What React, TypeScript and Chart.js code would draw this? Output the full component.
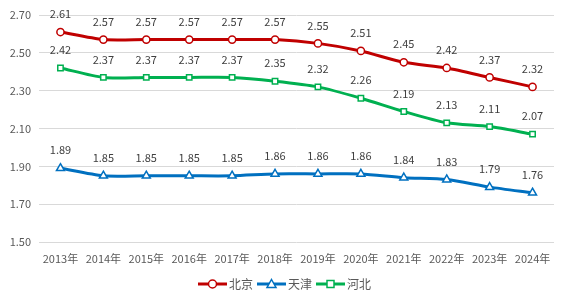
import React, { useEffect, useRef } from "react";
import { Chart, registerables } from "chart.js";

Chart.register(...registerables);

const categories = ["2013年", "2014年", "2015年", "2016年", "2017年", "2018年", "2019年", "2020年", "2021年", "2022年", "2023年", "2024年"];
const beijing = [2.61, 2.57, 2.57, 2.57, 2.57, 2.57, 2.55, 2.51, 2.45, 2.42, 2.37, 2.32];
const tianjin = [1.89, 1.85, 1.85, 1.85, 1.85, 1.86, 1.86, 1.86, 1.84, 1.83, 1.79, 1.76];
const hebei = [2.42, 2.37, 2.37, 2.37, 2.37, 2.35, 2.32, 2.26, 2.19, 2.13, 2.11, 2.07];
const seriesNames = ["北京", "天津", "河北"];
const yTicks = { min: 1.5, max: 2.7, step: 0.2 };

const COLORS = ["#C00000", "#0070C0", "#00B050"];
const MARKERS = ["circle", "triangle", "rect"];
const RADII = [3.6, 4.6, 3.8];
const NUM_FONT = '"Noto Sans CJK SC", "Noto Sans", sans-serif';

function drawMarker(ctx: CanvasRenderingContext2D, style: string, x: number, y: number, color: string) {
  ctx.save();
  ctx.fillStyle = "#ffffff";
  ctx.strokeStyle = color;
  ctx.lineWidth = 1.5;
  ctx.beginPath();
  if (style === "circle") {
    ctx.arc(x, y, 4, 0, Math.PI * 2);
  } else if (style === "triangle") {
    ctx.moveTo(x, y - 4.5);
    ctx.lineTo(x + 4.5, y + 3.5);
    ctx.lineTo(x - 4.5, y + 3.5);
    ctx.closePath();
  } else {
    ctx.rect(x - 3.5, y - 3.5, 7, 7);
  }
  ctx.fill();
  ctx.stroke();
  ctx.restore();
}

const labelPlugin = {
  id: "valueLabels",
  afterDatasetsDraw(chart: any) {
    const ctx = chart.ctx as CanvasRenderingContext2D;
    ctx.save();
    ctx.font = `11px ${NUM_FONT}`;
    ctx.fillStyle = "#404040";
    ctx.textAlign = "center";
    ctx.textBaseline = "middle";
    chart.data.datasets.forEach((ds: any, i: number) => {
      const meta = chart.getDatasetMeta(i);
      meta.data.forEach((pt: any, j: number) => {
        ctx.fillText(Number(ds.data[j]).toFixed(2), pt.x, pt.y - 18);
      });
    });
    ctx.restore();
  },
};

const legendPlugin = {
  id: "customLegend",
  afterDraw(chart: any) {
    const ctx = chart.ctx as CanvasRenderingContext2D;
    ctx.save();
    ctx.font = `12px ${NUM_FONT}`;
    ctx.textBaseline = "middle";
    ctx.textAlign = "left";
    const lineW = 29;
    const gap = 2;
    const itemGap = 4;
    const widths = seriesNames.map((n) => lineW + gap + ctx.measureText(n).width);
    const total = widths.reduce((a, b) => a + b, 0) + itemGap * (seriesNames.length - 1);
    let x = chart.width / 2 - total / 2;
    const y = 284;
    seriesNames.forEach((n, i) => {
      ctx.strokeStyle = COLORS[i];
      ctx.lineWidth = 3;
      ctx.beginPath();
      ctx.moveTo(x, y);
      ctx.lineTo(x + lineW, y);
      ctx.stroke();
      drawMarker(ctx, MARKERS[i], x + lineW / 2, y, COLORS[i]);
      ctx.fillStyle = "#595959";
      ctx.fillText(n, x + lineW + gap, y + 0.5);
      x += widths[i] + itemGap;
    });
    ctx.restore();
  },
};

export default function App() {
  const ref = useRef<HTMLCanvasElement>(null);
  useEffect(() => {
    if (!ref.current) return;
    const data = [beijing, tianjin, hebei];
    const chart = new Chart(ref.current, {
      type: "line",
      data: {
        labels: categories,
        datasets: seriesNames.map((name, i) => ({
          label: name,
          data: data[i],
          borderColor: COLORS[i],
          backgroundColor: "#ffffff",
          borderWidth: 3,
          tension: 0.25,
          pointStyle: MARKERS[i] as any,
          pointRadius: RADII[i],
          pointBorderWidth: 1.5,
          pointBackgroundColor: "#ffffff",
          pointBorderColor: COLORS[i],
        })),
      },
      options: {
        animation: false,
        responsive: false,
        layout: { padding: { top: 15, right: 15, bottom: 38, left: 0 } },
        plugins: {
          legend: { display: false },
          tooltip: { enabled: false },
        },
        scales: {
          x: {
            offset: true,
            grid: { display: false },
            border: { display: false },
            ticks: { color: "#595959", font: { size: 11, family: NUM_FONT }, padding: 2, maxRotation: 0, autoSkip: false },
            afterFit: (s: any) => { s.height = 26; },
          },
          y: {
            min: yTicks.min,
            max: yTicks.max,
            grid: { color: "#d9d9d9", lineWidth: 1, drawTicks: false },
            border: { display: false },
            ticks: {
              stepSize: yTicks.step,
              color: "#595959",
              font: { size: 11, family: NUM_FONT },
              padding: 8,
              callback: (v: any) => Number(v).toFixed(2),
            },
            afterFit: (s: any) => { s.width = 39; },
          },
        },
      },
      plugins: [labelPlugin, legendPlugin],
    });
    return () => chart.destroy();
  }, []);
  return (
    <div style={{ position: "fixed", left: 0, top: 0, width: 569, height: 306, background: "#fff" }}>
      <canvas ref={ref} width={569} height={306} style={{ width: 569, height: 306, display: "block" }} />
    </div>
  );
}
